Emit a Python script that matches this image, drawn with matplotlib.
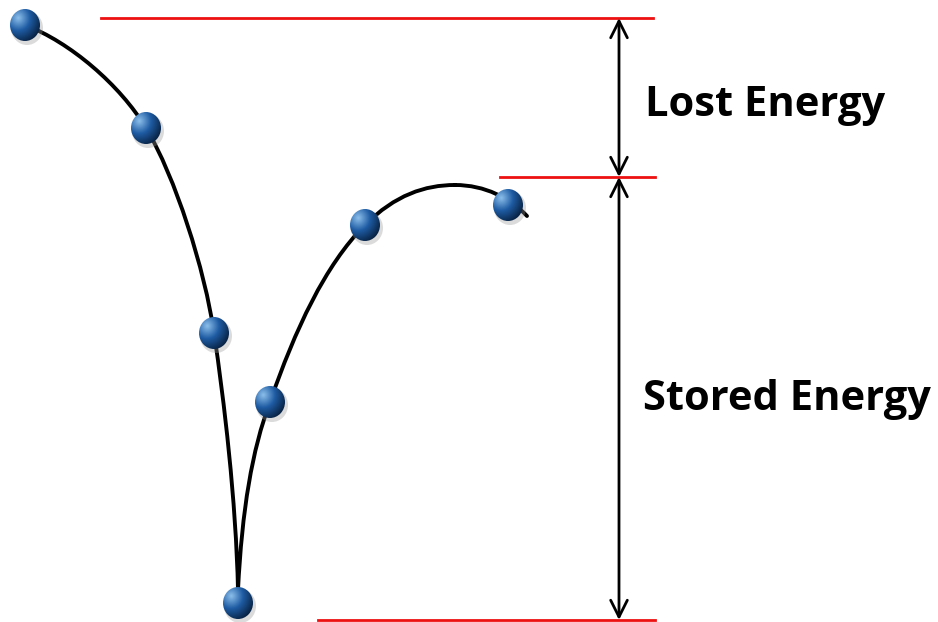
import numpy as np
import matplotlib
matplotlib.use("Agg")
import matplotlib.pyplot as plt
from matplotlib.path import Path
from matplotlib.patches import PathPatch, Ellipse, FancyArrowPatch

W, H = 938, 622

# ball centres (pixel coords, y downward)
ball_x = [25, 146, 214, 238, 270, 365, 508]
ball_y = [25, 128, 333, 603, 402, 225, 205]
BALL_RX, BALL_RY = 15, 16

# trajectory as cubic bezier segments: start, ctrl1, ctrl2, end
curve_segments = [
    [(25, 25), (70, 42), (120, 85), (146, 128)],
    [(146, 128), (175, 176), (205, 270), (214, 333)],
    [(214, 333), (224, 400), (236, 500), (238, 590)],
    [(238, 590), (242, 510), (252, 450), (270, 402)],
    [(270, 402), (295, 330), (325, 265), (365, 225)],
    [(365, 225), (395, 195), (425, 185), (455, 185)],
    [(455, 185), (485, 185), (510, 198), (527, 216)],
]

# red reference levels: y, x_start, x_end
level_y = [18, 177, 620]
level_x0 = [101, 500, 318]
level_x1 = [653, 655, 655]

ARROW_X = 619
labels = ["Lost Energy", "Stored Energy"]
label_pos = [(765, 105), (787, 400)]

fig = plt.figure(figsize=(W / 100, H / 100), dpi=100)
ax = fig.add_axes([0, 0, 1, 1])
ax.set_xlim(0, W)
ax.set_ylim(H, 0)
ax.axis("off")

# trajectory
verts, codes = [], []
for seg in curve_segments:
    verts += seg
    codes += [Path.MOVETO, Path.CURVE4, Path.CURVE4, Path.CURVE4]
ax.add_patch(PathPatch(Path(verts, codes), fill=False, lw=2.8, color="black",
                       capstyle="round", zorder=2))

# red level lines
for y, x0, x1 in zip(level_y, level_x0, level_x1):
    ax.plot([x0, x1], [y, y], color="#ee1111", lw=2, zorder=1)

# double-headed arrows between levels
for y0, y1 in zip(level_y[:-1], level_y[1:]):
    ax.add_patch(FancyArrowPatch((ARROW_X, y0), (ARROW_X, y1), arrowstyle="<->,head_length=12,head_width=6",
                                 lw=2, color="black", shrinkA=0, shrinkB=0, zorder=3))

for txt, (x, y) in zip(labels, label_pos):
    ax.text(x, y, txt, ha="center", va="center", fontsize=30, fontweight="bold",
            family=["Open Sans", "DejaVu Sans"], color="black")

# shaded balls: gradient image clipped to an ellipse
n = 64
gy, gx = np.mgrid[-1:1:n * 1j, -1:1:n * 1j]
d = np.clip(np.hypot(gx + 0.45, gy + 0.45) / 1.9, 0, 1)
light = np.array([0.55, 0.75, 0.92])
mid = np.array([0.12, 0.36, 0.64])
dark = np.array([0.0, 0.06, 0.14])
img = np.where(d[..., None] < 0.42,
               light + (mid - light) * (d[..., None] / 0.42),
               mid + (dark - mid) * ((d[..., None] - 0.42) / 0.58))
for bx, by in zip(ball_x, ball_y):
    ax.add_patch(Ellipse((bx + 2, by + 3), 2 * BALL_RX + 2, 2 * BALL_RY + 2, color="#999999",
                         alpha=0.35, lw=0, zorder=4))
    im = ax.imshow(img, extent=(bx - BALL_RX, bx + BALL_RX, by + BALL_RY, by - BALL_RY), zorder=5,
                   interpolation="bilinear")
    im.set_clip_path(Ellipse((bx, by), 2 * BALL_RX, 2 * BALL_RY, transform=ax.transData))

ax.set_xlim(0, W)
ax.set_ylim(H, 0)
fig.savefig("out.png", dpi=100)
